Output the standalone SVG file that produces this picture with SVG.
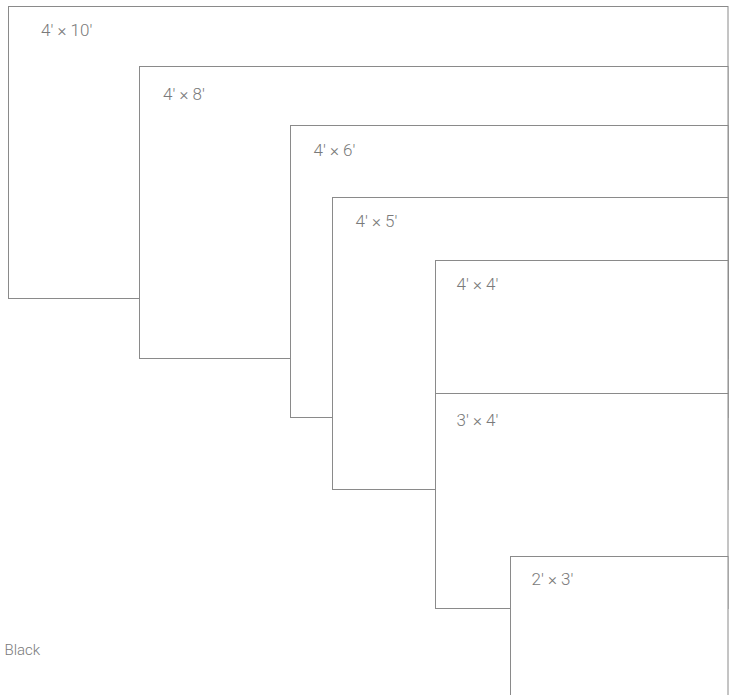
<svg xmlns="http://www.w3.org/2000/svg" width="729" height="695" viewBox="0 0 729 695">
<style>
.box{fill:#ffffff;stroke:#8a8a8a;stroke-width:1}
.lbl{font-family:Roboto,"Liberation Sans",Arial,sans-serif;font-weight:300;font-size:17px;fill:#7a7a7a}
</style>
<rect x="0" y="0" width="729" height="695" fill="#ffffff"/>
<g id="n-4x10"><rect class="box" x="8.5" y="6.5" width="719.5" height="292"/><text class="lbl" x="41" y="35.5">4' × 10'</text></g>
<g id="n-4x8"><rect class="box" x="139.5" y="66.5" width="588.5" height="292"/><text class="lbl" x="163" y="99.5">4' × 8'</text></g>
<g id="n-4x6"><rect class="box" x="290.5" y="125.5" width="437.5" height="292"/><text class="lbl" x="313.5" y="156">4' × 6'</text></g>
<g id="n-4x5"><rect class="box" x="332.5" y="197.5" width="395.5" height="292"/><text class="lbl" x="355.5" y="226.5">4' × 5'</text></g>
<g id="n-4x4"><rect class="box" x="435.5" y="260.5" width="292.5" height="133"/><text class="lbl" x="456.5" y="290">4' × 4'</text></g>
<g id="n-3x4"><rect class="box" x="435.5" y="393.5" width="292.5" height="215"/><text class="lbl" x="456.5" y="425.5">3' × 4'</text></g>
<g id="n-2x3"><rect class="box" x="510.5" y="556.5" width="217.5" height="150"/><text class="lbl" x="531.5" y="585">2' × 3'</text></g>
<g id="connectors"></g>
<text class="lbl" x="4.5" y="655" style="font-size:15px">Black</text>
</svg>
